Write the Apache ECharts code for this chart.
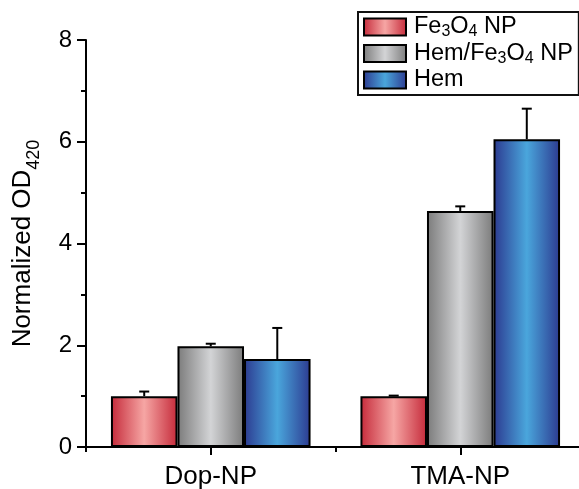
<!DOCTYPE html>
<html>
<head>
<meta charset="utf-8">
<script src="https://cdn.jsdelivr.net/npm/echarts@6/dist/echarts.min.js"></script>
<style>
  html, body { margin: 0; padding: 0; background: #fff; overflow: hidden; }
  #chart { width: 579px; height: 489px; }
</style>
</head>
<body>
<div id="chart"></div>
<script>
// Categories and measured values (mean, one-sided error)
const categories = ['Dop-NP', 'TMA-NP'];
const seriesNames = ['Fe3O4 NP', 'Hem/Fe3O4 NP', 'Hem'];
const fe3o4Values = [1.00, 1.00];
const fe3o4Errors = [0.09, 0.01];
const hemFe3o4Values = [1.98, 4.64];
const hemFe3o4Errors = [0.05, 0.09];
const hemValues = [1.73, 6.05];
const hemErrors = [0.61, 0.60];
const yTicks = [0, 2, 4, 6, 8];

const FONT = '"Liberation Sans", Arial, Helvetica, sans-serif';

function barGradient(edge, center) {
  return {
    type: 'linear', x: 0, y: 0, x2: 1, y2: 0,
    colorStops: [
      { offset: 0, color: edge },
      { offset: 0.5, color: center },
      { offset: 1, color: edge }
    ]
  };
}

const fills = [
  barGradient('#c52a3a', '#f6a6a4'),
  barGradient('#7b7b7b', '#d3d4d6'),
  barGradient('#2c3a90', '#4aa6dc')
];

const allValues = [fe3o4Values, hemFe3o4Values, hemValues];
const allErrors = [fe3o4Errors, hemFe3o4Errors, hemErrors];

// error bar rows: [category index, mean, error, series index]
const errorRows = [];
allValues.forEach((vals, s) => {
  vals.forEach((v, c) => errorRows.push([c, v, allErrors[s][c], s]));
});

// chemical formula with subscripts as rich text
function formula(name) {
  return name.replace(/Fe3O4/g, 'Fe{s|3}O{s|4}');
}

const chart = echarts.init(document.getElementById('chart'), null, { renderer: 'canvas' });

const option = {
  animation: false,
  backgroundColor: '#fff',
  textStyle: { fontFamily: FONT },
  // plot area runs slightly past the right edge of the canvas
  grid: { left: 86, width: 499, top: 40, bottom: 42, containLabel: false, outerBoundsMode: 'none' },
  legend: {
    data: seriesNames,
    orient: 'vertical',
    left: 358,
    top: 12,
    padding: [3, 6, 3, 5],
    itemGap: 1.5,
    itemWidth: 42,
    itemHeight: 17,
    icon: 'rect',
    borderColor: '#111',
    borderWidth: 2,
    formatter: formula,
    textStyle: {
      fontFamily: FONT,
      fontSize: 23.5,
      color: '#000',
      lineHeight: 24,
      padding: [0, 0, 0, 3],
      rich: {
        s: { fontFamily: FONT, fontSize: 16, color: '#000', padding: [10, 0, 0, 0] }
      }
    }
  },
  xAxis: [
    {
      type: 'category',
      data: categories,
      axisLine: { lineStyle: { color: '#000', width: 2 } },
      axisTick: { show: true, length: 5, lineStyle: { color: '#000', width: 2 } },
      axisLabel: { fontFamily: FONT, fontSize: 26, color: '#000', margin: 17 }
    },
    {
      type: 'category',
      data: categories,
      position: 'bottom',
      axisLine: { show: false },
      axisTick: { show: true, alignWithLabel: true, length: 8, lineStyle: { color: '#000', width: 2 } },
      axisLabel: { show: false }
    }
  ],
  yAxis: {
    type: 'value',
    min: yTicks[0],
    max: yTicks[yTicks.length - 1],
    interval: 2,
    splitLine: { show: false },
    axisLine: { show: true, lineStyle: { color: '#000', width: 2 } },
    axisTick: { show: true, length: 9, lineStyle: { color: '#000', width: 2 } },
    minorTick: { show: true, splitNumber: 2, length: 5, lineStyle: { color: '#000', width: 2 } },
    axisLabel: { fontFamily: FONT, fontSize: 24, color: '#000', margin: 14 },
    name: 'Normalized OD{s|420}',
    nameLocation: 'middle',
    nameGap: 43,
    nameTextStyle: {
      fontFamily: FONT,
      fontSize: 26,
      color: '#000',
      rich: {
        s: { fontFamily: FONT, fontSize: 18, color: '#000', padding: [22, 0, 0, 0] }
      }
    }
  },
  series: [
    ...seriesNames.map((name, s) => ({
      name: name,
      type: 'bar',
      data: allValues[s],
      barGap: '0%',
      barCategoryGap: '20%',
      itemStyle: { color: fills[s], borderColor: '#000', borderWidth: 2 }
    })),
    {
      type: 'custom',
      name: 'error',
      data: errorRows,
      encode: { x: 0, y: 1 },
      z: 5,
      renderItem: function (params, api) {
        const cat = api.value(0);
        const mean = api.value(1);
        const err = api.value(2);
        const s = api.value(3);
        const band = api.size([1, 0])[0];
        const barW = band * 0.8 / 3;
        const base = api.coord([cat, mean]);
        const top = api.coord([cat, mean + err]);
        const x = base[0] + (s - 1) * barW;
        const style = { stroke: '#000', lineWidth: 2 };
        return {
          type: 'group',
          children: [
            { type: 'line', shape: { x1: x, y1: base[1], x2: x, y2: top[1] }, style: style },
            { type: 'line', shape: { x1: x - 5, y1: top[1], x2: x + 5, y2: top[1] }, style: style }
          ]
        };
      }
    }
  ]
};

chart.setOption(option);
</script>
</body>
</html>
